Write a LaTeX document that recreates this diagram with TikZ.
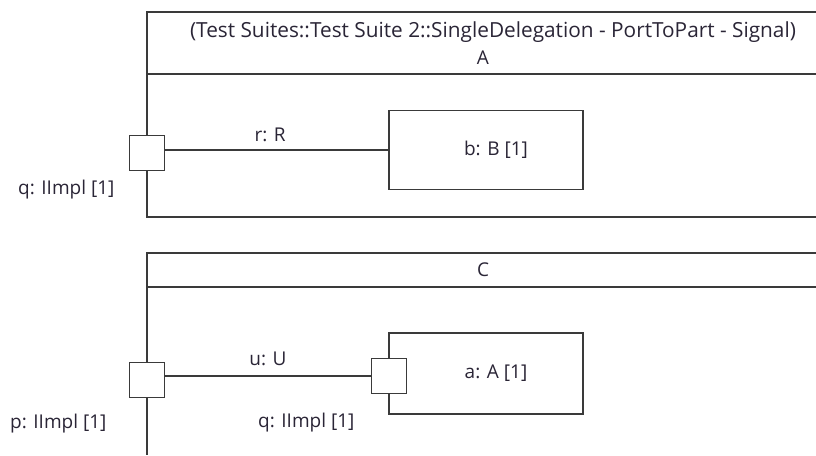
\documentclass[tikz,border=0pt]{standalone}
\usepackage{fontspec}
\setmainfont{Open Sans}
\usetikzlibrary{positioning, backgrounds}
\definecolor{umlline}{HTML}{3A3A3A}
\definecolor{umltext}{HTML}{2A2536}

\begin{document}
\begin{tikzpicture}[
        x=1pt, y=-1pt,
        node distance = 4pt and 12pt,
        frame/.style = {draw=umlline, line width=1.9pt},
        port/.style = {draw=umlline, fill=white, rectangle, minimum size=35pt, inner sep=0pt, line width=1.7pt},
        part/.style = {draw=umlline, fill=white, rectangle, minimum width=194pt, minimum height=79pt, line width=1.6pt, font=\fontsize{19}{22}\selectfont, text=umltext},
        lbl/.style = {font=\fontsize{19}{22}\selectfont, text=umltext, inner sep=1pt},
        conn/.style = {draw=umlline, line width=1.4pt}
    ]
        \useasboundingbox (0,0) rectangle (816,455);

        % Frame A
        \node (titleA) [lbl, font=\fontsize{20.8}{22}\selectfont] at (493,32) {(Test Suites::Test Suite 2::SingleDelegation - PortToPart - Signal)};
        \node (nameA) [lbl] at (483,58) {A};
        \node (portQ) [port] at (147,153) {};
        \node (partB) [part] at (486,150) {\hspace*{20pt}b: B [1]};
        \node (lblQ) [lbl, below left=8pt and 13pt of portQ.south west, anchor=north east] {q: IImpl [1]};

        % Frame C
        \node (nameC) [lbl] at (483,270) {C};
        \node (portP) [port] at (147,380) {};
        \node (partA) [part, minimum height=81pt] at (486,373.5) {\hspace*{20pt}a: A [1]};
        \node (portQa) [port] at (389,376) {};
        \node (lblP) [lbl, below left=15pt and 21pt of portP.south west, anchor=north east] {p: IImpl [1]};
        \node (lblQa) [lbl, below left=18pt and 15pt of portQa.south west, anchor=north east] {q: IImpl [1]};

        % Connectors
        \draw [conn] (portQ.east |- partB) -- node[lbl, above=7pt, pos=0.47] (lblR) {r: R} (partB.west);
        \draw [conn] (portP.east |- portQa) -- node[lbl, above=9pt] (lblU) {u: U} (portQa.west);

        % Frames
        \begin{scope}[on background layer]
            \draw [frame] (816,12) -| (147,217) -- (816,217);
            \draw [frame] (147,74) -- (816,74);
            \draw [frame] (816,253) -| (147,455);
            \draw [frame] (147,287) -- (816,287);
        \end{scope}
    \end{tikzpicture}
\end{document}
